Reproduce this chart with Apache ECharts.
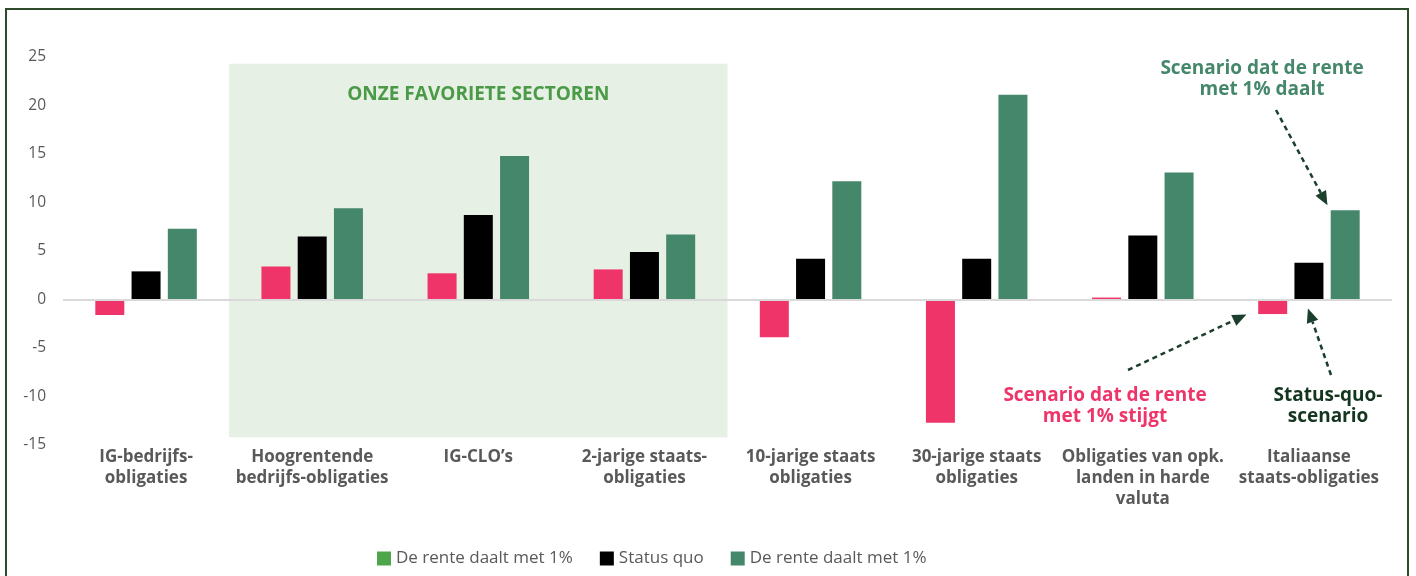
<!DOCTYPE html>
<html>
<head>
<meta charset="utf-8">
<script src="https://cdn.jsdelivr.net/npm/echarts@6/dist/echarts.min.js"></script>
<style>
  html, body { margin: 0; padding: 0; background: #fff; }
  #frame { position: absolute; left: 5px; top: 8px; width: 1404px; height: 600px; border: 2px solid #2d4a2d; box-sizing: border-box; }
  #chart { position: absolute; left: 0; top: 0; width: 1416px; height: 576px; }
</style>
</head>
<body>
<div id="frame"></div>
<div id="chart"></div>
<script>
// categorieën
const categories = [
  'IG-bedrijfs-\nobligaties',
  'Hoogrentende\nbedrijfs-obligaties',
  'IG-CLO\u2019s',
  '2-jarige staats-\nobligaties',
  '10-jarige staats\nobligaties',
  '30-jarige staats\nobligaties',
  'Obligaties van opk.\nlanden in harde\nvaluta',
  'Italiaanse\nstaats-obligaties'
];
// rente stijgt met 1%
const rateUp = [-1.6, 3.4, 2.7, 3.1, -3.9, -12.7, 0.2, -1.5];
// status quo
const statusQuo = [2.9, 6.5, 8.7, 4.9, 4.2, 4.2, 6.6, 3.8];
// rente daalt met 1%
const rateDown = [7.3, 9.4, 14.8, 6.7, 12.2, 21.1, 13.1, 9.2];
// legenda teksten
const legendNames = ['De rente daalt met 1%', 'Status quo', 'De rente daalt met 1%'];
const yTicks = [-15, -10, -5, 0, 5, 10, 15, 20, 25];

const FONT = '"Open Sans", "Noto Sans", sans-serif';
const PINK = '#ee3468';
const GREEN = '#45876a';

const chartInstance = echarts.init(document.getElementById('chart'));

const option = {
  animation: false,
  textStyle: { fontFamily: FONT },
  grid: { left: 63, right: 24, top: 57, bottom: 131 },
  legend: {
    left: 372,
    bottom: 4,
    itemWidth: 14,
    itemHeight: 14,
    itemGap: 27,
    icon: 'rect',
    textStyle: { fontSize: 17, color: '#595959', fontFamily: FONT },
    data: ['s0', 's1', 's2'],
    formatter: function (name) { return legendNames[+name.slice(1)]; }
  },
  xAxis: {
    type: 'category',
    data: categories,
    axisLine: { show: false, onZero: false },
    axisTick: { show: false },
    axisLabel: {
      interval: 0,
      margin: 2,
      color: '#595959',
      fontWeight: 'bold',
      fontSize: 17,
      lineHeight: 21,
      align: 'center',
      fontFamily: FONT
    }
  },
  yAxis: {
    type: 'value',
    min: yTicks[0],
    max: yTicks[yTicks.length - 1],
    interval: 5,
    splitLine: { show: false },
    axisLine: { show: false },
    axisTick: { show: false },
    axisLabel: { color: '#595959', fontSize: 15.5, margin: 17, fontFamily: FONT }
  },
  series: [
    {
      name: 's0',
      type: 'bar',
      barWidth: 29,
      barGap: '25%',
      barCategoryGap: '40%',
      itemStyle: { color: '#4ea64a' },
      data: rateUp.map(v => ({ value: v, itemStyle: { color: PINK } })),
      markArea: {
        silent: true,
        itemStyle: { color: '#e7f0e4' },
        label: {
          show: true,
          position: 'insideTop',
          distance: 21,
          color: '#4a9a48',
          fontWeight: 'bold',
          fontSize: 19,
          fontFamily: FONT
        },
        data: [[
          { name: 'ONZE FAVORIETE SECTOREN', xAxis: categories[1], yAxis: 24.3 },
          { xAxis: categories[3], yAxis: -14.2 }
        ]]
      },
      markLine: {
        silent: true,
        symbol: 'none',
        label: { show: false },
        lineStyle: { color: '#d9d9d9', width: 2, type: 'solid' },
        data: [{ yAxis: 0 }]
      },
      z: 3
    },
    {
      name: 's1',
      type: 'bar',
      barWidth: 29,
      barGap: '25%',
      itemStyle: { color: '#000000' },
      data: statusQuo,
      z: 3
    },
    {
      name: 's2',
      type: 'bar',
      barWidth: 29,
      barGap: '25%',
      itemStyle: { color: GREEN },
      data: rateDown,
      z: 3
    }
  ]
};
chartInstance.setOption(option);

// annotaties bij de laatste categorie
const last = categories.length - 1;
const cx = chartInstance.convertToPixel({ xAxisIndex: 0 }, categories[last]);
const yPix = v => chartInstance.convertToPixel({ yAxisIndex: 0 }, v);
const y0 = yPix(0);
const pinkLeft = cx - 36 - 14.5;
const greenLeft = cx + 36 - 14.5;
const ARROW = '#1b3f2c';

function arrow(x1, y1, x2, y2) {
  const ang = Math.atan2(y2 - y1, x2 - x1);
  const len = 14, half = 6;
  const bx = x2 - len * Math.cos(ang), by = y2 - len * Math.sin(ang);
  const px = -Math.sin(ang) * half, py = Math.cos(ang) * half;
  return [
    {
      type: 'line',
      shape: { x1: x1, y1: y1, x2: bx, y2: by },
      style: { stroke: ARROW, lineWidth: 2.5, lineDash: [5, 4] },
      z: 10
    },
    {
      type: 'polygon',
      shape: { points: [[x2, y2], [bx + px, by + py], [bx - px, by - py]] },
      style: { fill: ARROW },
      z: 10
    }
  ];
}

function label(text, x, y, color) {
  return {
    type: 'text',
    x: x,
    y: y,
    style: {
      text: text,
      fill: color,
      font: 'bold 19px ' + FONT,
      lineHeight: 21,
      align: 'center',
      verticalAlign: 'top'
    },
    z: 10
  };
}

const graphics = []
  .concat(arrow(1276, 110, greenLeft - 3, yPix(rateDown[last]) - 5))
  .concat(arrow(1128, 370, pinkLeft - 12, y0 + 15))
  .concat(arrow(1331, 375, cx - 1, y0 + 9))
  .concat([
    label('Scenario dat de rente\nmet 1% daalt', 1262, 58, GREEN),
    label('Scenario dat de rente\nmet 1% stijgt', 1105, 385, PINK),
    label('Status-quo-\nscenario', 1328, 385, '#14361f')
  ]);

chartInstance.setOption({ graphic: graphics });
</script>
</body>
</html>
